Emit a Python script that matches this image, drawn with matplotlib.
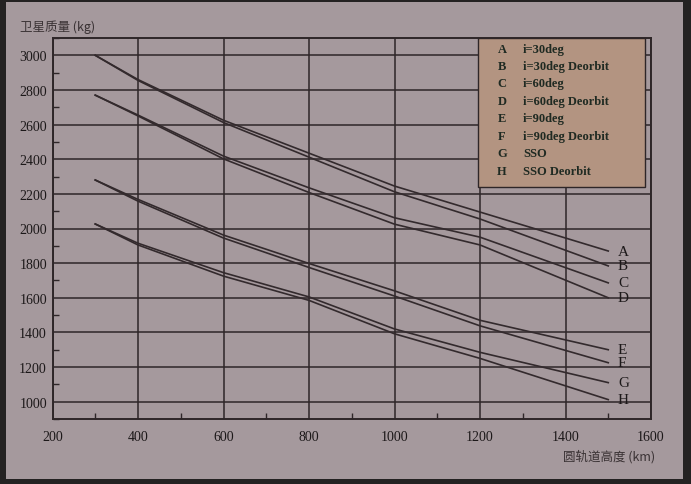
import matplotlib
matplotlib.use("Agg")
import matplotlib.pyplot as plt
from matplotlib.patches import Rectangle
from matplotlib.ticker import MultipleLocator

# 轨道高度 (km) 与各工况卫星质量 (kg)
altitude = [300, 400, 600, 800, 1000, 1200, 1500]
mass = {
    "A": [3000, 2860, 2625, 2435, 2245, 2095, 1870],
    "B": [3000, 2855, 2612, 2412, 2212, 2055, 1784],
    "C": [2770, 2655, 2418, 2235, 2062, 1950, 1686],
    "D": [2770, 2650, 2402, 2208, 2025, 1905, 1600],
    "E": [2280, 2168, 1962, 1798, 1640, 1470, 1300],
    "F": [2280, 2158, 1945, 1775, 1610, 1438, 1225],
    "G": [2026, 1915, 1745, 1605, 1420, 1285, 1110],
    "H": [2026, 1905, 1725, 1585, 1392, 1250, 1012],
}
legend_text = ["i=30deg", "i=30deg Deorbit", "i=60deg", "i=60deg Deorbit",
               "i=90deg", "i=90deg Deorbit", "SSO", "SSO Deorbit"]
xticks = [200, 400, 600, 800, 1000, 1200, 1400, 1600]
yticks = [1000, 1200, 1400, 1600, 1800, 2000, 2200, 2400, 2600, 2800, 3000]

PAGE = "#a5999d"
INK = "#2e2628"
SERIF = "Liberation Serif"
CJK = ["Noto Sans CJK SC", "DejaVu Sans"]

W, H = 691, 485
fig = plt.figure(figsize=(W / 100, H / 100), dpi=100)
fig.patch.set_facecolor("#242222")
# 书页区域 (外圈留深色边)
fig.patches.append(Rectangle((6 / W, 5 / H), (W - 14) / W, (H - 8) / H,
                             transform=fig.transFigure, facecolor=PAGE,
                             edgecolor="none", zorder=-5))

ax = fig.add_axes([52.5 / W, (H - 420) / H, (651 - 52.5) / W, (420 - 39) / H])
ax.set_facecolor(PAGE)
ax.set_xlim(200, 1600)
ax.set_ylim(900, 3100)
ax.set_xticks(xticks)
ax.set_yticks(yticks)
ax.xaxis.set_minor_locator(MultipleLocator(100))
ax.yaxis.set_minor_locator(MultipleLocator(100))
ax.grid(True, which="major", color=INK, lw=1.1)
ax.tick_params(which="both", direction="in", color=INK)
ax.tick_params(which="major", length=0, pad=8)
ax.tick_params(which="minor", length=4, width=1)
for s in ax.spines.values():
    s.set_color(INK)
    s.set_linewidth(1.4)
for lab in ax.get_xticklabels() + ax.get_yticklabels():
    lab.set_fontfamily(SERIF)
    lab.set_fontsize(10)
    lab.set_color("#1c1819")
ax.tick_params(axis="y", pad=4)

for key, ys in mass.items():
    ax.plot(altitude, ys, color="#332a2d", lw=1.2, zorder=3)
    ax.annotate(key, (altitude[-1], ys[-1]), xytext=(7, 0), textcoords="offset points",
                ha="left", va="center", fontfamily=SERIF, fontsize=11,
                color="#1c1819", zorder=4)

# 图例框
fig.patches.append(Rectangle((478 / W, 1 - 188 / H), 167 / W, 149 / H,
                             transform=fig.transFigure, facecolor="#b39481",
                             edgecolor=INK, lw=1.0, zorder=5))
row_y = [50, 67, 84, 102, 119, 137, 154, 172]
for key, txt, yy in zip(mass, legend_text, row_y):
    fig.text(502 / W, 1 - yy / H, key, ha="center", va="center", fontfamily=SERIF,
             fontsize=9, fontweight="bold", color="#1f2a22", zorder=6)
    fig.text(523 / W, 1 - yy / H, txt, ha="left", va="center", fontfamily=SERIF,
             fontsize=9, fontweight="bold", color="#1f2a22", zorder=6)

fig.text(20 / W, 1 - 27 / H, "卫星质量 (kg)", ha="left", va="center",
         family=CJK, fontsize=9, color="#3a3234")
fig.text(655 / W, 1 - 457 / H, "圆轨道高度 (km)", ha="right", va="center",
         family=CJK, fontsize=9, color="#3a3234")

fig.savefig("out.png", dpi=100, facecolor=fig.get_facecolor())
